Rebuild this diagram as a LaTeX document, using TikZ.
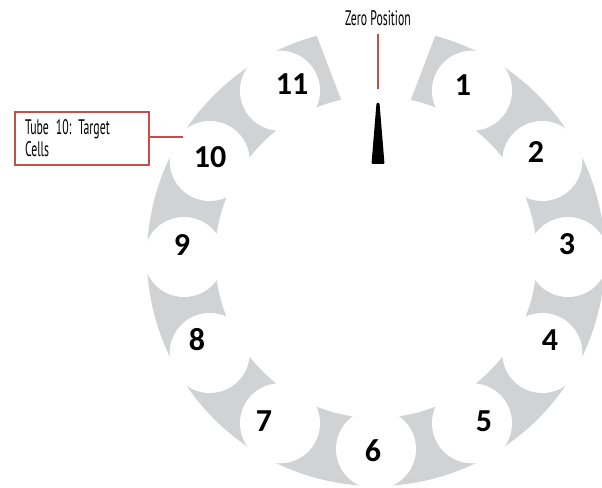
\documentclass[tikz,border=0pt]{standalone}
\usepackage{fontspec}
\usetikzlibrary{calc}
\newfontfamily\numfont{Carlito}
\newfontfamily\agency[FakeStretch=0.56]{PT Sans}
\definecolor{ringgray}{RGB}{209,210,212}
\definecolor{calloutred}{RGB}{192,80,77}
\frenchspacing
\begin{document}
\begin{tikzpicture}[x=1pt,y=1pt,
  tube/.style={circle,fill=white,minimum size=80pt,inner sep=0pt},
  num/.style={font=\numfont\bfseries\fontsize{32}{32}\selectfont,inner sep=0pt},
  agtext/.style={font=\agency\fontsize{21}{22}\selectfont},
  redln/.style={draw=calloutred,line width=1.5pt},
  callout/.style={draw=calloutred,line width=2pt,rectangle,minimum width=134pt,minimum height=53pt,
    text width=114pt,align=left,inner sep=0pt,font=\agency\fontsize{21}{22}\selectfont}]
\useasboundingbox (0,0) rectangle (602,487);
\coordinate (C) at (376,230);
% gray ring with gap at the top
\fill[ringgray] ($(C)+(75:229)$) arc[start angle=75,end angle=-255,radius=229]
  -- ($(C)+(-257.5:161)$) arc[start angle=-257.5,end angle=77.5,radius=161] -- cycle;
% tube holes
\foreach \k in {1,...,11}{
  \node[tube] (t\k) at ($(C)+({90-30*\k}:192)$) {};
}
% numbers
\node[num] (n1) at (463,402) {1};
\node[num] (n2) at (536,335) {2};
\node[num] (n3) at (567,243) {3};
\node[num] (n4) at (550,147) {4};
\node[num] (n5) at (484,66) {5};
\node[num] (n6) at (373,36) {6};
\node[num] (n7) at (264,66) {7};
\node[num] (n8) at (197,147) {8};
\node[num] (n9) at (182,242) {9};
\node[num] (n10) at (210,330) {10};
\node[num] (n11) at (292,403) {11};
% needle
\fill[black,rounded corners=1pt] (376.5,384) -- (379.5,384) -- (384.5,323) -- (371.5,323) -- cycle;
% zero position label
\node[agtext,inner sep=0pt] (zp) at (378,469) {Zero Position};
\coordinate (zend) at (378,398);
\draw[redln] (zp.south |- 0,453) -- (zend);
% callout for tube 10
\node[callout] (box) at (82,348.5) {Tube 10: Target\\Cells};
\coordinate (c10) at (183,350);
\draw[redln] (box.east |- c10) -- (c10);
\end{tikzpicture}
\end{document}
